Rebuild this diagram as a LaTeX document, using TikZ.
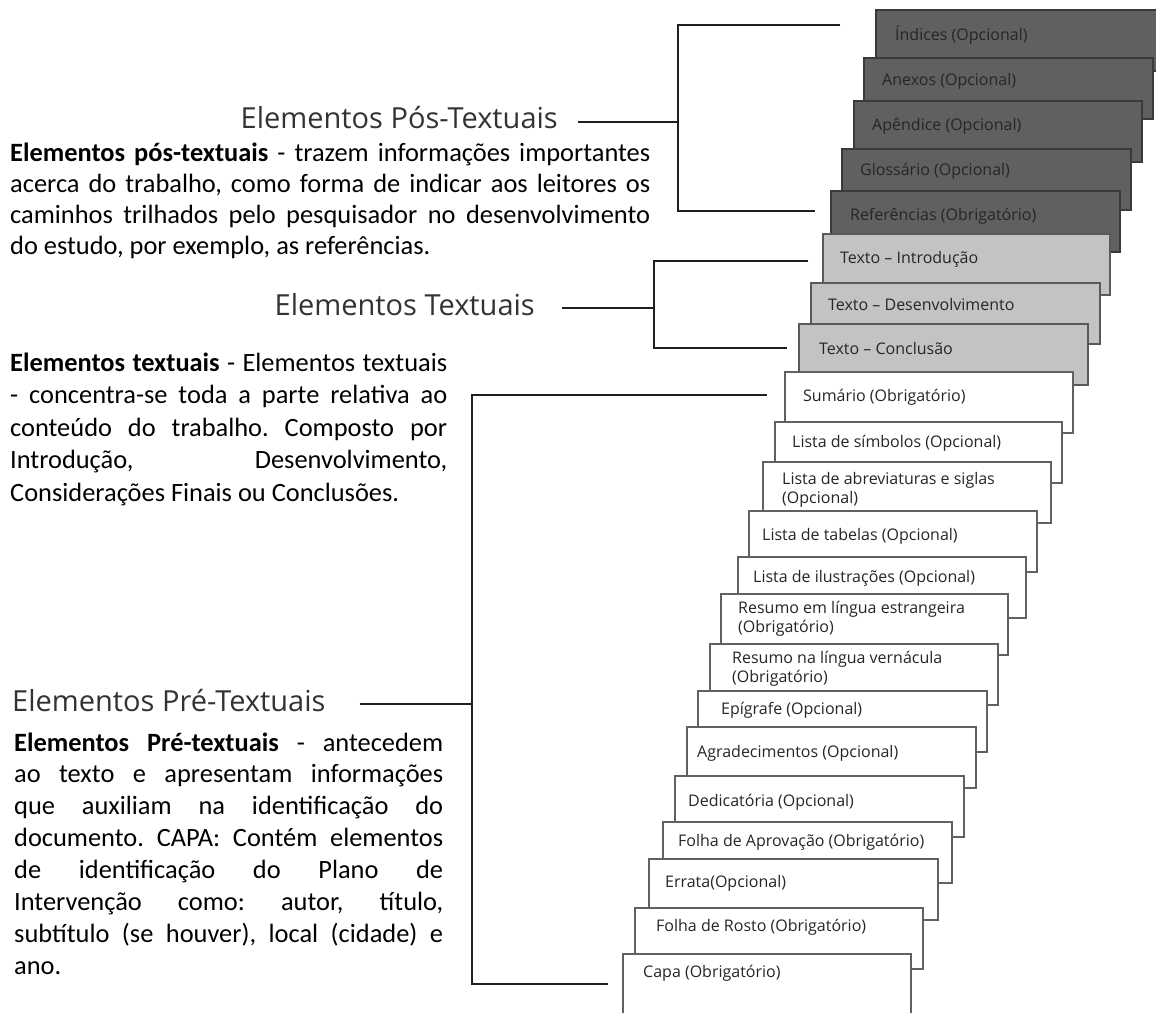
\documentclass[tikz,border=0pt]{standalone}
\usepackage{fontspec}
\setmainfont{Carlito}
\newfontfamily\osans{Open Sans}
\definecolor{darkpage}{HTML}{606060}
\definecolor{lightpage}{HTML}{C3C3C3}
\definecolor{pageedge}{HTML}{3A3A3A}
\definecolor{labelink}{HTML}{262626}
\definecolor{headink}{HTML}{333333}
\newcommand{\jline}[1]{\makebox[\linewidth][s]{#1}}
\newcommand{\docpage}[8]{%
  \node[#2, anchor=north west, minimum width=#5bp, minimum height=61bp] (#1) at (#3,#4) {};
  \node[pglabel] (#1-t) at (#6,#7) {#8};
}
\frenchspacing
\begin{document}
\begin{tikzpicture}[x=1bp,y=-1bp,
  pagebox/.style={draw=pageedge, line width=1.4bp, inner sep=0pt, outer sep=0pt},
  darkpg/.style={pagebox, fill=darkpage},
  lightpg/.style={pagebox, fill=lightpage, draw=black!65},
  whitepg/.style={pagebox, fill=white, draw=black!62},
  pglabel/.style={anchor=west, inner sep=0pt, font=\osans\fontsize{16bp}{19.5bp}\selectfont, text=labelink, align=left},
  heading/.style={inner sep=0pt, font=\osans\fontsize{29bp}{35bp}\selectfont, text=headink},
  bracket/.style={draw=black!88, line width=2bp},
  body/.style={anchor=base west, inner sep=0pt, text=black}]
\useasboundingbox (0,0) rectangle (1156,1013);
\clip (0,0) rectangle (1156,1013);
\fill[white] (0,0) rectangle (1156,1013);

% pages, back to front
\docpage{pIndices}{darkpg}{876}{10}{290}{895}{35}{Índices (Opcional)}
\docpage{pAnexos}{darkpg}{864}{58}{289}{882}{81}{Anexos (Opcional)}
\docpage{pApendice}{darkpg}{854}{101}{288}{872}{126}{Apêndice (Opcional)}
\docpage{pGlossario}{darkpg}{842}{149}{289}{860}{171}{Glossário (Opcional)}
\docpage{pReferencias}{darkpg}{831}{191}{289}{850}{216}{Referências (Obrigatório)}
\docpage{pIntro}{lightpg}{823}{234}{287}{840}{259}{Texto – Introdução}
\docpage{pDesenv}{lightpg}{811}{283}{289}{828}{304}{Texto – Desenvolvimento}
\docpage{pConcl}{lightpg}{799}{324}{289}{819}{348}{Texto – Conclusão}
\docpage{pSumario}{whitepg}{785}{372}{288}{803}{397}{Sumário (Obrigatório)}
\docpage{pSimbolos}{whitepg}{775}{422}{287}{792}{443}{Lista de símbolos (Opcional)}
\docpage{pAbrev}{whitepg}{763}{462}{288}{782}{490}{Lista de abreviaturas e siglas\\(Opcional)}
\docpage{pTabelas}{whitepg}{749}{511}{288}{762}{536}{Lista de tabelas (Opcional)}
\docpage{pIlustr}{whitepg}{738}{557}{288}{753}{578}{Lista de ilustrações (Opcional)}
\docpage{pResEst}{whitepg}{721}{594}{287}{738}{619}{Resumo em língua estrangeira\\(Obrigatório)}
\docpage{pResVer}{whitepg}{710}{644}{288}{732}{669}{Resumo na língua vernácula\\(Obrigatório)}
\docpage{pEpigrafe}{whitepg}{698}{691}{289}{721}{710}{Epígrafe (Opcional)}
\docpage{pAgrad}{whitepg}{687}{727}{289}{697}{753}{Agradecimentos (Opcional)}
\docpage{pDedic}{whitepg}{675}{776}{289}{688}{802}{Dedicatória (Opcional)}
\docpage{pAprov}{whitepg}{663}{822}{289}{678}{842}{Folha de Aprovação (Obrigatório)}
\docpage{pErrata}{whitepg}{649}{859}{289}{665}{883}{Errata(Opcional)}
\docpage{pRosto}{whitepg}{635}{908}{288}{656}{927}{Folha de Rosto (Obrigatório)}
\docpage{pCapa}{whitepg}{623}{954}{288}{643}{973}{Capa (Obrigatório)}

% headings
\node[heading, anchor=base east] (hPos) at (558,128) {Elementos Pós-Textuais};
\node[heading, anchor=base east] (hTex) at (535,315) {Elementos Textuais};
\node[heading, anchor=base west] (hPre) at (12,711) {Elementos Pré-Textuais};

% bracket coordinates
\coordinate (posJ) at (678,122);
\coordinate (posTop) at (840,25);
\coordinate (posBot) at (815,211);
\coordinate (texJ) at (654,308);
\coordinate (texTop) at (808,261);
\coordinate (texBot) at (787,348);
\coordinate (preJ) at (472,704);
\coordinate (preTop) at (767,395);
\coordinate (preBot) at (608,984);

\draw[bracket] ([xshift=20bp]hPos.east |- posJ) -- (posJ);
\draw[bracket] (posTop) -| (posJ) |- (posBot);
\draw[bracket] ([xshift=27bp]hTex.east |- texJ) -- (texJ);
\draw[bracket] (texTop) -| (texJ) |- (texBot);
\draw[bracket] ([xshift=34bp]hPre.east |- preJ) -- (preJ);
\draw[bracket] (preTop) -| (preJ) |- (preBot);

% body paragraphs
\node[body] (bPos) at (10,161) {\parbox[t]{640bp}{\fontsize{26.4bp}{31bp}\selectfont
\jline{\textbf{Elementos pós-textuais} - trazem informações importantes}\\
\jline{acerca do trabalho, como forma de indicar aos leitores os}\\
\jline{caminhos trilhados pelo pesquisador no desenvolvimento}\\
do estudo, por exemplo, as referências.}};

\node[body] (bTex) at (10,371) {\parbox[t]{437bp}{\fontsize{26.4bp}{32.5bp}\selectfont
\jline{\textbf{Elementos textuais} - Elementos textuais}\\
\jline{- concentra-se toda a parte relativa ao}\\
\jline{conteúdo do trabalho. Composto por}\\
\jline{Introdução, Desenvolvimento,}\\
Considerações Finais ou Conclusões.}};

\node[body] (bPre) at (14,751) {\parbox[t]{429bp}{\fontsize{26.4bp}{31.9bp}\selectfont
\jline{\textbf{Elementos Pré-textuais} - antecedem}\\
\jline{ao texto e apresentam informações}\\
\jline{que auxiliam na identificação do}\\
\jline{documento. CAPA: Contém elementos}\\
\jline{de identificação do Plano de}\\
\jline{Intervenção como: autor, título,}\\
\jline{subtítulo (se houver), local (cidade) e}\\
ano.}};
\end{tikzpicture}
\end{document}
